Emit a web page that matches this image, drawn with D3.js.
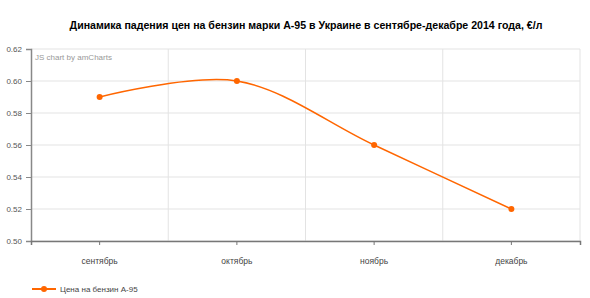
<!DOCTYPE html>
<html>
<head>
<meta charset="utf-8">
<script src="https://d3js.org/d3.v7.min.js"></script>
<style>
  body { margin: 0; background: #fff; }
  svg { font-family: "Liberation Sans", Arial, sans-serif; }
</style>
</head>
<body>
<svg id="chart" width="590" height="298"></svg>
<script>
const title = "Динамика падения цен на бензин марки А-95 в Украине в сентябре-декабре 2014 года, €/л";
const months = ["сентябрь", "октябрь", "ноябрь", "декабрь"];
const prices = [0.59, 0.60, 0.56, 0.52];
const yTicks = [0.50, 0.52, 0.54, 0.56, 0.58, 0.60, 0.62];
const seriesName = "Цена на бензин А-95";

const svg = d3.select("#chart");
const plotLeft = 31, plotRight = 580, plotTop = 49, plotBottom = 241;
const color = "#ff6600";

const x = d3.scaleBand().domain(months).range([plotLeft, plotRight]);
const y = d3.scaleLinear().domain([0.50, 0.62]).range([plotBottom, plotTop]);

svg.append("text")
  .attr("x", 306).attr("y", 29)
  .attr("text-anchor", "middle")
  .attr("font-size", 10.6).attr("font-weight", "bold")
  .attr("fill", "#000")
  .text(title);

// horizontal grid
svg.append("g").selectAll("line")
  .data(yTicks)
  .enter().append("line")
  .attr("x1", plotLeft).attr("x2", plotRight)
  .attr("y1", d => y(d)).attr("y2", d => y(d))
  .attr("stroke", "#e3e3e3").attr("stroke-width", 1);

// vertical grid between categories
svg.append("g").selectAll("line")
  .data(months)
  .enter().append("line")
  .attr("x1", d => x(d) + x.step())
  .attr("x2", d => x(d) + x.step())
  .attr("y1", plotTop).attr("y2", plotBottom)
  .attr("stroke", "#e3e3e3").attr("stroke-width", 1);

// y axis
const yAxis = svg.append("g")
  .attr("transform", `translate(${plotLeft},0)`)
  .call(d3.axisLeft(y).tickValues(yTicks).tickFormat(d3.format(".2f")).tickSize(5).tickPadding(4));
yAxis.select(".domain").attr("stroke", "#888").attr("stroke-width", 1.5);
yAxis.selectAll(".tick line").attr("stroke", "#888");
yAxis.selectAll("text").attr("font-size", 8).attr("fill", "#555").attr("font-family", "Liberation Sans, Arial, sans-serif");

// x axis
const xAxis = svg.append("g")
  .attr("transform", `translate(0,${plotBottom})`)
  .call(d3.axisBottom(x).tickSize(4).tickPadding(13));
xAxis.select(".domain").attr("stroke", "#777").attr("stroke-width", 1.5);
xAxis.selectAll(".tick line").attr("stroke", "#777");
xAxis.selectAll("text").attr("font-size", 8.5).attr("fill", "#444").attr("font-family", "Liberation Sans, Arial, sans-serif");

svg.append("text")
  .attr("x", plotLeft + 4).attr("y", plotTop + 11)
  .attr("font-size", 8).attr("fill", "#999")
  .text("JS chart by amCharts");

const line = d3.line()
  .x((d, i) => x(months[i]) + x.bandwidth() / 2)
  .y(d => y(d))
  .curve(d3.curveCatmullRom);

svg.append("path")
  .datum(prices)
  .attr("d", line)
  .attr("fill", "none")
  .attr("stroke", color)
  .attr("stroke-width", 1.5);

svg.append("g").selectAll("circle")
  .data(prices)
  .enter().append("circle")
  .attr("cx", (d, i) => x(months[i]) + x.bandwidth() / 2)
  .attr("cy", d => y(d))
  .attr("r", 3)
  .attr("fill", color);

// legend
const lg = svg.append("g").attr("transform", "translate(32,289)");
lg.append("line").attr("x1", 0).attr("x2", 24).attr("y1", 0).attr("y2", 0)
  .attr("stroke", color).attr("stroke-width", 2);
lg.append("circle").attr("cx", 12).attr("cy", 0).attr("r", 3).attr("fill", color);
lg.append("text").attr("x", 28).attr("y", 3)
  .attr("font-size", 8).attr("fill", "#444")
  .text(seriesName);
</script>
</body>
</html>
